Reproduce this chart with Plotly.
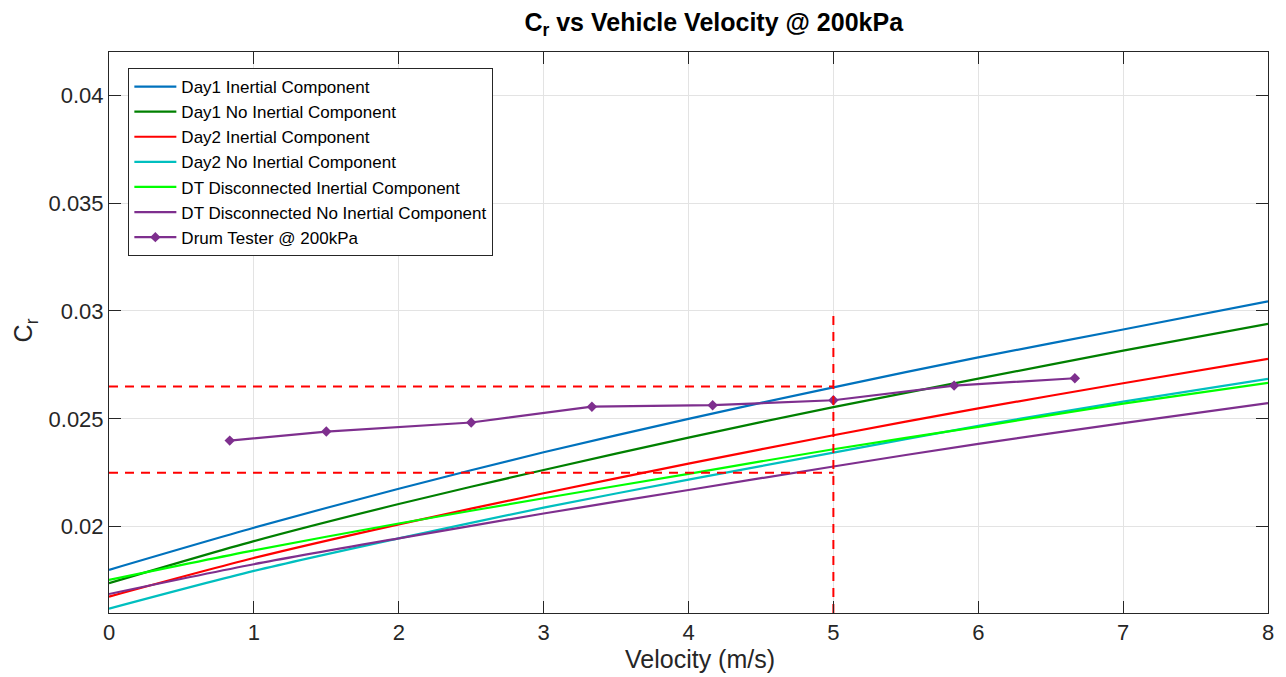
import plotly.graph_objects as go

# ---- data ----
velocity = [0, 1, 2, 3, 4, 5, 6, 7, 8]
day1_inertial = [0.01800, 0.01995, 0.02176, 0.02345, 0.02500, 0.02646, 0.02785, 0.02914, 0.03044]
day1_no_inertial = [0.01738, 0.01933, 0.02105, 0.02263, 0.02413, 0.02554, 0.02686, 0.02816, 0.02940]
day2_inertial = [0.01676, 0.01855, 0.02011, 0.02155, 0.02292, 0.02424, 0.02548, 0.02665, 0.02778]
day2_no_inertial = [0.01620, 0.01795, 0.01946, 0.02088, 0.02218, 0.02343, 0.02467, 0.02580, 0.02685]
dt_inertial = [0.01753, 0.01890, 0.02015, 0.02132, 0.02245, 0.02359, 0.02463, 0.02570, 0.02667]
dt_no_inertial = [0.01688, 0.01826, 0.01946, 0.02061, 0.02170, 0.02279, 0.02384, 0.02480, 0.02573]

drum_velocity = [0.8333, 1.5, 2.5, 3.3333, 4.1667, 5.0, 5.8333, 6.6667]
drum_cr = [0.02399, 0.02441, 0.02483, 0.02556, 0.02563, 0.02586, 0.02654, 0.02688]

# reference (dashed) guide lines
ref_velocity = 5
ref_cr_low = 0.0225
ref_cr_high = 0.0265
ref_vertical_top = 0.030

x_ticks = [0, 1, 2, 3, 4, 5, 6, 7, 8]
y_ticks = [0.02, 0.025, 0.03, 0.035, 0.04]
y_tick_labels = ["0.02", "0.025", "0.03", "0.035", "0.04"]
x_range = [0, 8]
y_range = [0.016, 0.042]

series = [
    ("Day1 Inertial Component", day1_inertial, "#0072BD"),
    ("Day1 No Inertial Component", day1_no_inertial, "#008000"),
    ("Day2 Inertial Component", day2_inertial, "#FF0000"),
    ("Day2 No Inertial Component", day2_no_inertial, "#00BFBF"),
    ("DT Disconnected Inertial Component", dt_inertial, "#00FF00"),
    ("DT Disconnected No Inertial Component", dt_no_inertial, "#7E2F8E"),
]

FONT = "Liberation Sans, Arial, Helvetica, sans-serif"
DARK = "#262626"

fig = go.Figure()
for name, vals, color in series:
    fig.add_trace(go.Scatter(x=velocity, y=vals, mode="lines", name=name,
                             line=dict(color=color, width=2.2, shape="spline", smoothing=0.8)))

fig.add_trace(go.Scatter(x=drum_velocity, y=drum_cr, mode="lines+markers",
                         name="Drum Tester @ 200kPa",
                         line=dict(color="#7E2F8E", width=2.2),
                         marker=dict(symbol="diamond", size=8, color="#7E2F8E")))

dash_style = dict(color="#FF0000", width=2, dash="9px,7px")
fig.add_trace(go.Scatter(x=[0, ref_velocity], y=[ref_cr_high, ref_cr_high], mode="lines",
                         line=dash_style, showlegend=False, hoverinfo="skip"))
fig.add_trace(go.Scatter(x=[0, ref_velocity], y=[ref_cr_low, ref_cr_low], mode="lines",
                         line=dash_style, showlegend=False, hoverinfo="skip"))
fig.add_trace(go.Scatter(x=[ref_velocity, ref_velocity], y=[y_range[0], ref_vertical_top], mode="lines",
                         line=dash_style, showlegend=False, hoverinfo="skip"))

axis_common = dict(
    showline=True, linecolor=DARK, linewidth=1, mirror="ticks",
    ticks="inside", ticklen=12, tickwidth=1, tickcolor=DARK,
    showgrid=True, gridcolor="#E3E3E3", gridwidth=1, zeroline=False,
    tickfont=dict(family=FONT, size=22, color=DARK),
)

fig.update_layout(
    width=1286, height=677,
    margin=dict(l=109, r=18, t=52, b=64),
    paper_bgcolor="white", plot_bgcolor="white",
    font=dict(family=FONT, color=DARK),
    title=dict(text="<b>C<sub>r</sub> vs Vehicle Velocity @ 200kPa</b>",
               x=0.555, xref="container", xanchor="center",
               y=1 - 22 / 677, yref="container", yanchor="middle",
               font=dict(family=FONT, size=25, color="black")),
    xaxis=dict(range=x_range, tickvals=x_ticks, **axis_common),
    yaxis=dict(range=y_range, tickvals=y_ticks, ticktext=y_tick_labels, **axis_common),
    legend=dict(x=0.0167, y=0.9715, xanchor="left", yanchor="top",
                bgcolor="white", bordercolor=DARK, borderwidth=1,
                font=dict(family=FONT, size=17, color="black"),
                itemwidth=42, tracegroupgap=0),
    showlegend=True,
    annotations=[
        dict(text="Velocity (m/s)", xref="paper", yref="paper",
             x=0.5098, y=-0.0814, xanchor="center", yanchor="middle",
             showarrow=False, font=dict(family=FONT, size=25, color=DARK)),
        dict(text="C<sub>r</sub>", xref="paper", yref="paper",
             x=-0.0721, y=0.5045, xanchor="center", yanchor="middle",
             textangle=-90, showarrow=False,
             font=dict(family=FONT, size=25, color=DARK)),
    ],
)

fig.write_html("out.html")
